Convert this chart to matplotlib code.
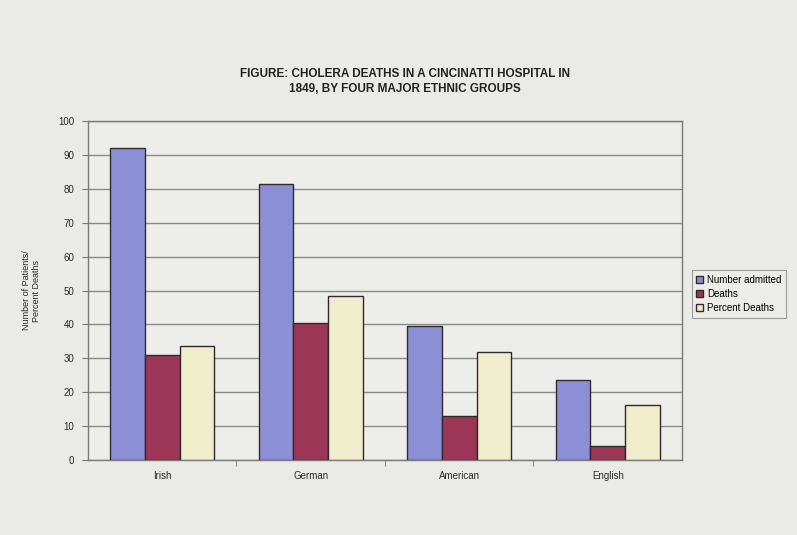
import matplotlib.pyplot as plt
import numpy as np

plt.rcParams['font.family'] = ['Liberation Sans', 'DejaVu Sans']

groups = ["Irish", "German", "American", "English"]
admitted = [92, 81.5, 39.5, 23.5]
deaths = [31, 40.5, 13, 4]
pct_deaths = [33.5, 48.5, 32, 16.3]
series_names = ["Number admitted", "Deaths", "Percent Deaths"]
y_ticks = list(range(0, 101, 10))

paper = "#eaeae7"
colors = ["#8c8fd6", "#9b3656", "#efedcb"]


def main():
    fig = plt.figure(figsize=(7.97, 5.35), dpi=100)
    fig.patch.set_facecolor(paper)
    ax = fig.add_axes([0.1104, 0.1402, 0.7453, 0.6336])
    ax.set_facecolor("#edede9")

    x = np.arange(len(groups))
    w = 0.233
    for i, (vals, c) in enumerate(zip([admitted, deaths, pct_deaths], colors)):
        ax.bar(x + (i - 1) * w, vals, w, color=c, edgecolor="#2e2b30",
               linewidth=1.0, zorder=3, label=series_names[i])

    ax.set_xlim(-0.5, len(groups) - 0.5)
    ax.set_ylim(0, 100)
    ax.set_yticks(y_ticks)
    ax.yaxis.grid(True, color="#8a8a8a", linewidth=1.0, zorder=0)
    ax.set_xticks(x)
    ax.set_xticklabels(groups)
    ax.set_xticks(np.arange(0.5, len(groups) - 0.5, 1.0), minor=True)
    ax.tick_params(axis="x", which="major", length=0, pad=8,
                   labelsize=7, labelcolor="#2a2a2a")
    ax.tick_params(axis="x", which="minor", length=4, color="#777777")
    ax.tick_params(axis="y", length=4, color="#777777", labelsize=7,
                   labelcolor="#2a2a2a", pad=6)
    for s in ax.spines.values():
        s.set_color("#7a7a7a")
        s.set_linewidth(1.0)

    ax.set_ylabel("Number of Patients/\nPercent Deaths", fontsize=6.5,
                  color="#2a2a2a", labelpad=12)

    fig.text(0.508, 0.848, "FIGURE: CHOLERA DEATHS IN A CINCINATTI HOSPITAL IN\n"
             "1849, BY FOUR MAJOR ETHNIC GROUPS", ha="center", va="center",
             fontsize=8.5, fontweight="bold", color="#222222", linespacing=1.35)

    leg = ax.legend(loc="center left", bbox_to_anchor=(1.008, 0.49), fontsize=7,
                    frameon=True, fancybox=False, edgecolor="#888888",
                    facecolor="#edede9", handlelength=0.7, handleheight=0.7,
                    handletextpad=0.4, borderpad=0.5, labelspacing=0.4)
    leg.get_frame().set_linewidth(0.8)

    fig.savefig("out.png", dpi=100, facecolor=paper)


if __name__ == "__main__":
    main()
